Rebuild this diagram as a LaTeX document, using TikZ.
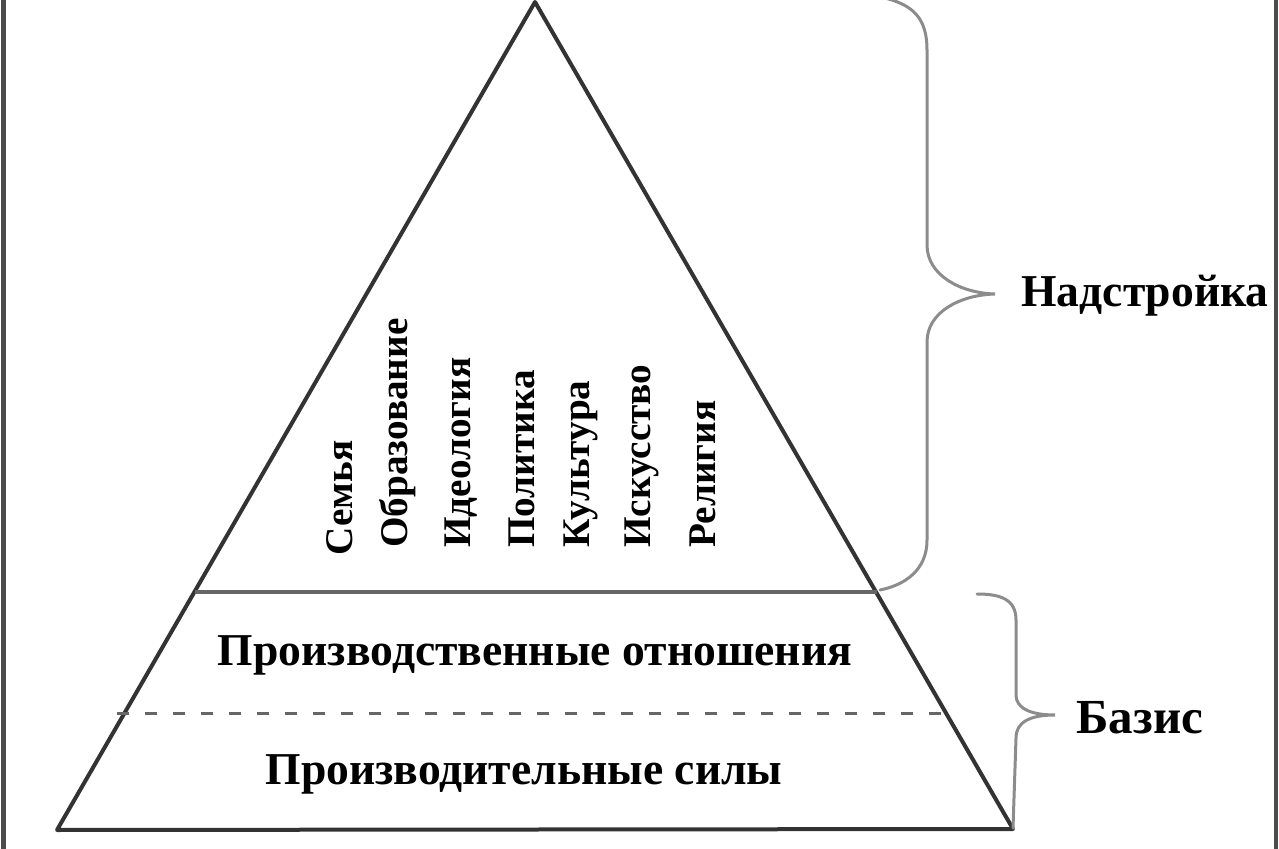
\documentclass[tikz,border=0pt]{standalone}
\usepackage{fontspec}
\setmainfont{Liberation Serif}
\begin{document}
\begin{tikzpicture}[x=0.5pt,y=-0.5pt]
        \useasboundingbox (0,0) rectangle (1279,849);
        \draw[line width=2.5pt,black!70] (3,0) -- (3,849);
        \draw[line width=2pt,black!70] (1276,0) -- (1276,849);
        \begin{scope}[every node/.style={coordinate}]
          \node (top) at (535,2) {};
          \node (bl) at (57,830) {};
          \node (br) at (1013,829) {};
          \node (ml) at (195,592) {};
          \node (mr) at (877,592) {};
          \node (dl) at (117,713) {};
          \node (dr) at (952,713) {};
        \end{scope}
        \draw[line width=2pt,black!80,line join=round] (top) -- (bl) -- (br) -- cycle;
        \draw[line width=1.8pt,black!60] (ml) -- (mr);
        \draw[line width=1.5pt,black!60,dash pattern=on 6pt off 8pt] (dl) -- (dr);
        \begin{scope}[every node/.style={rotate=90,anchor=west,inner sep=0pt,font=\fontsize{19.6}{19.6}\selectfont\bfseries}]
          \node (fam) at (340,556) {Семья};
          \node (edu) at (398,548) {Образование};
          \node (ide) at (461,548) {Идеология};
          \node (pol) at (522,548) {Политика};
          \node (cul) at (581,548) {Культура};
          \node (art) at (642,548) {Искусство};
          \node (rel) at (703,548) {Религия};
        \end{scope}
        \begin{scope}[every node/.style={inner sep=0pt,font=\fontsize{22.8}{22.8}\selectfont\bfseries}]
          \node (rel2) at (535,655) {Производственные отношения};
          \node (forc) at (524,774) {Производительные силы};
          \node[anchor=west] (sup) at (1021,296) {Надстройка};
          \node[anchor=west,font=\fontsize{24.5}{24.5}\selectfont\bfseries] (bas) at (1076,718) {Базис};
        \end{scope}
        % braces
        \begin{scope}[line width=1.5pt,black!45,line cap=round]
          \draw (880,-3) .. controls (915,4) and (927,20) .. (927,50) -- (927,245)
                .. controls (927,275) and (960,293) .. (995,294)
                .. controls (960,295) and (927,312) .. (927,342) -- (927,540)
                .. controls (927,570) and (905,585) .. (880,590);
          \draw (977,594) .. controls (1000,594) and (1016,599) .. (1016,620) -- (1016,695)
                .. controls (1016,708) and (1030,715) .. (1055,715)
                .. controls (1030,715) and (1016,722) .. (1016,738) -- (1013,828);
        \end{scope}
      \end{tikzpicture}
\end{document}
